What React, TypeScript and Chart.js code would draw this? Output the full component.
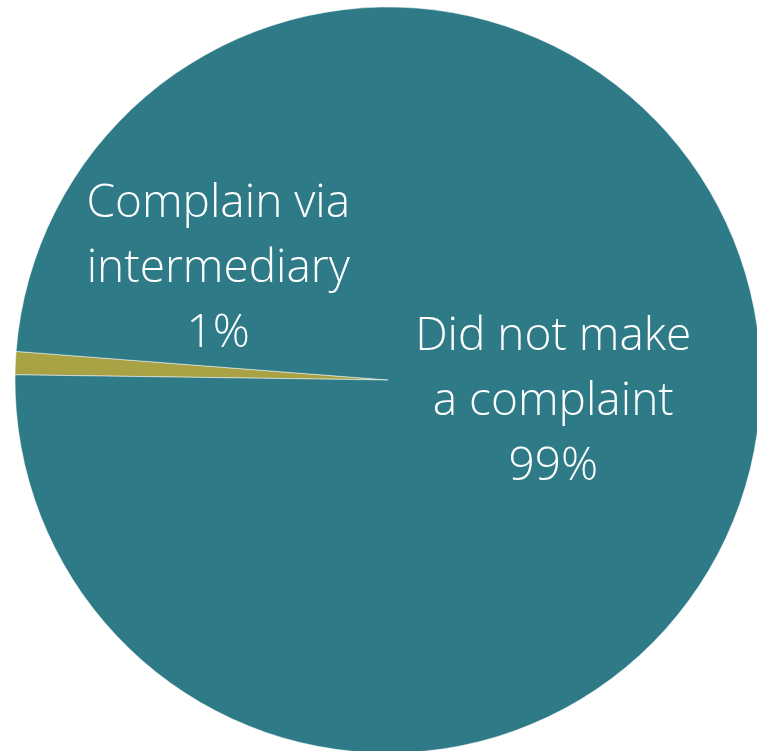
import React, { useEffect, useRef } from "react";
import { Chart, registerables } from "chart.js";

Chart.register(...registerables);

const categories = ["Complain via intermediary", "Did not make a complaint"];
const values = [1, 99];
const percentLabels = ["1%", "99%"];
const labelLines = [["Complain via", "intermediary"], ["Did not make", "a complaint"]];
const colors = ["#A8A244", "#2E7A86"];

// label anchor offsets from pie centre (as fraction of radius): [dx, first baseline dy]
const labelAnchors = [
  [-0.455, -0.437],
  [0.443, -0.08],
];

const labelPlugin = {
  id: "sliceLabels",
  afterDraw(chart: any) {
    const meta = chart.getDatasetMeta(0);
    const ctx = chart.ctx;
    const arc0 = meta.data[0];
    const cx = arc0.x;
    const cy = arc0.y;
    const r = arc0.outerRadius;
    ctx.save();
    ctx.fillStyle = "#FFFFFF";
    ctx.font = "300 46px 'Open Sans', sans-serif";
    ctx.textAlign = "center";
    ctx.textBaseline = "alphabetic";
    const lh = 65;
    categories.forEach((_, i) => {
      const lines = [...labelLines[i], percentLabels[i]];
      const x = cx + labelAnchors[i][0] * r;
      const y0 = cy + labelAnchors[i][1] * r;
      lines.forEach((t, j) => ctx.fillText(t, x, y0 + j * lh));
    });
    ctx.restore();
  },
};

export default function App() {
  const ref = useRef<HTMLCanvasElement>(null);
  useEffect(() => {
    const chart = new Chart(ref.current!, {
      type: "pie",
      data: {
        labels: categories,
        datasets: [
          {
            data: values,
            backgroundColor: colors,
            borderColor: "rgba(255,255,255,0.5)",
            borderWidth: 1,
          },
        ],
      },
      options: {
        responsive: false,
        animation: false,
        rotation: 270.8,
        radius: 373,
        layout: { padding: { left: 15, right: 15, top: 7, bottom: 7 } },
        plugins: {
          legend: { display: false },
          tooltip: { enabled: false },
        },
      },
      plugins: [labelPlugin],
    });
    return () => chart.destroy();
  }, []);
  return (
    <div
      style={{
        position: "fixed",
        left: 0,
        top: 0,
        width: 757,
        height: 751,
        overflow: "hidden",
        background: "#FFFFFF",
      }}
    >
      <canvas
        ref={ref}
        width={776}
        height={760}
        style={{ position: "absolute", left: 0, top: 0, width: 776, height: 760 }}
      />
    </div>
  );
}
